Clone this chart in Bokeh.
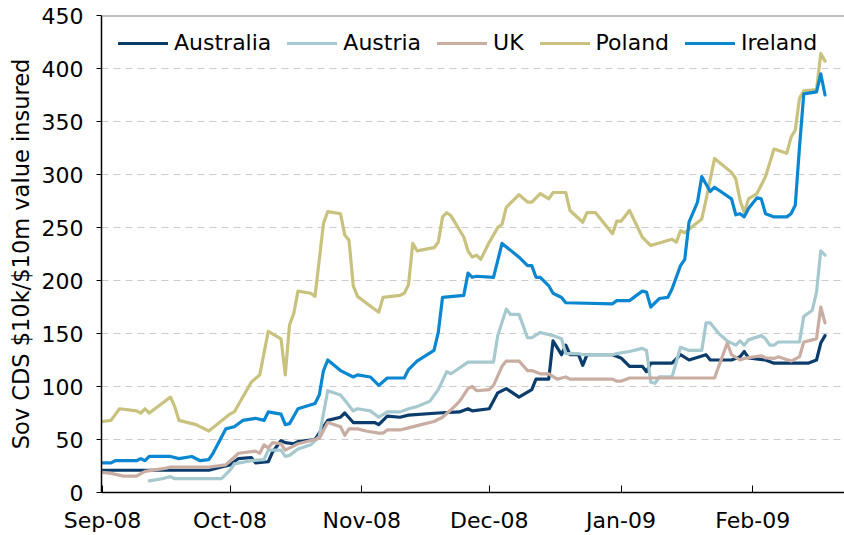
import pandas as pd
from bokeh.plotting import figure
from bokeh.models import (Range1d, FixedTicker, DatetimeTickFormatter, Span,
                          Legend, LegendItem, ColumnDataSource)
from bokeh.embed import file_html
from bokeh.resources import INLINE

series_names = ["Australia", "Austria", "UK", "Poland", "Ireland"]
series_colors = ["#0B3C6C", "#A6C8CF", "#C9ADA2", "#C9C27F", "#0A87D0"]

australia_dates = ["2008-09-01", "2008-09-26", "2008-09-29", "2008-10-01", "2008-10-03", "2008-10-06",
                   "2008-10-07", "2008-10-10", "2008-10-11", "2008-10-13", "2008-10-14", "2008-10-16",
                   "2008-10-17", "2008-10-21", "2008-10-24", "2008-10-27", "2008-10-28", "2008-10-30",
                   "2008-11-04", "2008-11-05", "2008-11-07", "2008-11-10", "2008-11-12", "2008-11-19",
                   "2008-11-24", "2008-11-26", "2008-11-27", "2008-12-01", "2008-12-03", "2008-12-05",
                   "2008-12-08", "2008-12-11", "2008-12-12", "2008-12-15", "2008-12-16", "2008-12-18",
                   "2008-12-19", "2008-12-20", "2008-12-22", "2008-12-23", "2008-12-24", "2008-12-30",
                   "2009-01-01", "2009-01-03", "2009-01-06", "2009-01-07", "2009-01-08", "2009-01-13",
                   "2009-01-15", "2009-01-17", "2009-01-21", "2009-01-22", "2009-01-27", "2009-01-29",
                   "2009-01-30", "2009-01-31", "2009-02-04", "2009-02-06", "2009-02-14", "2009-02-16",
                   "2009-02-17", "2009-02-18"]
australia_vals = [21, 21, 24, 26, 32, 33,
                  28, 29, 38, 49, 47, 46,
                  48, 50, 68, 71, 75, 66,
                  66, 64, 72, 71, 73, 75,
                  76, 79, 77, 79, 94, 98,
                  90, 97, 107, 107, 143, 130,
                  139, 130, 130, 120, 130, 130,
                  127, 119, 119, 114, 122, 122,
                  130, 125, 130, 125, 125, 128,
                  133, 127, 125, 122, 122, 125,
                  141, 148]

austria_dates = ["2008-09-12", "2008-09-15", "2008-09-17", "2008-09-18", "2008-09-29", "2008-10-01",
                 "2008-10-02", "2008-10-06", "2008-10-09", "2008-10-10", "2008-10-13", "2008-10-14",
                 "2008-10-15", "2008-10-17", "2008-10-20", "2008-10-22", "2008-10-24", "2008-10-27",
                 "2008-10-28", "2008-10-30", "2008-10-31", "2008-11-03", "2008-11-05", "2008-11-07",
                 "2008-11-10", "2008-11-12", "2008-11-14", "2008-11-17", "2008-11-19", "2008-11-21",
                 "2008-11-22", "2008-11-26", "2008-12-02", "2008-12-03", "2008-12-05", "2008-12-06",
                 "2008-12-08", "2008-12-10", "2008-12-11", "2008-12-13", "2008-12-16", "2008-12-18",
                 "2008-12-19", "2008-12-22", "2008-12-23", "2008-12-30", "2008-12-31", "2009-01-03",
                 "2009-01-06", "2009-01-07", "2009-01-08", "2009-01-09", "2009-01-10", "2009-01-13",
                 "2009-01-15", "2009-01-17", "2009-01-20", "2009-01-21", "2009-01-22", "2009-01-24",
                 "2009-01-26", "2009-01-28", "2009-01-29", "2009-01-30", "2009-01-31", "2009-02-03",
                 "2009-02-04", "2009-02-05", "2009-02-06", "2009-02-07", "2009-02-12", "2009-02-13",
                 "2009-02-15", "2009-02-16", "2009-02-17", "2009-02-18"]
austria_vals = [11, 13, 15, 13, 13, 21,
                27, 30, 31, 40, 40, 34,
                35, 41, 45, 53, 96, 92,
                87, 77, 79, 77, 71, 76,
                76, 79, 81, 86, 97, 114,
                112, 123, 123, 148, 173, 168,
                168, 146, 146, 151, 148, 145,
                131, 131, 130, 130, 131, 133,
                136, 134, 104, 103, 109, 109,
                137, 134, 134, 160, 160, 150,
                143, 139, 143, 139, 144, 148,
                145, 139, 139, 142, 142, 166,
                172, 189, 228, 224]

uk_dates = ["2008-09-01", "2008-09-03", "2008-09-06", "2008-09-09", "2008-09-11", "2008-09-16",
            "2008-09-17", "2008-09-26", "2008-09-30", "2008-10-03", "2008-10-07", "2008-10-08",
            "2008-10-09", "2008-10-10", "2008-10-11", "2008-10-13", "2008-10-14", "2008-10-17",
            "2008-10-21", "2008-10-22", "2008-10-24", "2008-10-27", "2008-10-28", "2008-10-29",
            "2008-10-31", "2008-11-02", "2008-11-05", "2008-11-06", "2008-11-07", "2008-11-10",
            "2008-11-12", "2008-11-15", "2008-11-18", "2008-11-20", "2008-11-22", "2008-11-24",
            "2008-11-26", "2008-11-27", "2008-11-28", "2008-12-01", "2008-12-02", "2008-12-04",
            "2008-12-05", "2008-12-08", "2008-12-10", "2008-12-11", "2008-12-13", "2008-12-15",
            "2008-12-17", "2008-12-19", "2008-12-20", "2008-12-30", "2008-12-31", "2009-01-01",
            "2009-01-03", "2009-01-23", "2009-01-26", "2009-01-27", "2009-01-29", "2009-01-30",
            "2009-02-03", "2009-02-04", "2009-02-06", "2009-02-07", "2009-02-10", "2009-02-12",
            "2009-02-13", "2009-02-15", "2009-02-16", "2009-02-17", "2009-02-18"]
uk_vals = [19, 18, 15.5, 15.5, 20, 23,
           24, 24, 26, 37, 39, 37,
           45, 42, 47, 46, 40, 46,
           50, 51, 66, 62, 54, 60,
           60, 58, 56, 56, 59, 59,
           61, 64, 67, 71, 78, 86,
           98, 100, 96, 97, 101, 119,
           124, 124, 115, 115, 112, 112,
           107, 109, 107, 107, 105, 105,
           108, 108, 141, 130, 125, 126.5,
           129, 127, 126.5, 128, 124, 128,
           142, 144, 145, 175, 160]

poland_dates = ["2008-09-01", "2008-09-03", "2008-09-05", "2008-09-09", "2008-09-10", "2008-09-11",
                "2008-09-12", "2008-09-15", "2008-09-17", "2008-09-18", "2008-09-19", "2008-09-23",
                "2008-09-26", "2008-10-01", "2008-10-02", "2008-10-06", "2008-10-08", "2008-10-10",
                "2008-10-13", "2008-10-14", "2008-10-15", "2008-10-16", "2008-10-17", "2008-10-20",
                "2008-10-21", "2008-10-23", "2008-10-24", "2008-10-27", "2008-10-28", "2008-10-29",
                "2008-10-30", "2008-10-31", "2008-11-03", "2008-11-05", "2008-11-06", "2008-11-10",
                "2008-11-11", "2008-11-12", "2008-11-13", "2008-11-14", "2008-11-18", "2008-11-19",
                "2008-11-20", "2008-11-21", "2008-11-22", "2008-11-25", "2008-11-26", "2008-11-27",
                "2008-11-28", "2008-11-29", "2008-12-01", "2008-12-03", "2008-12-04", "2008-12-05",
                "2008-12-08", "2008-12-10", "2008-12-11", "2008-12-13", "2008-12-15", "2008-12-16",
                "2008-12-19", "2008-12-20", "2008-12-23", "2008-12-24", "2008-12-26", "2008-12-30",
                "2008-12-31", "2009-01-01", "2009-01-03", "2009-01-06", "2009-01-08", "2009-01-13",
                "2009-01-14", "2009-01-15", "2009-01-16", "2009-01-20", "2009-01-21", "2009-01-23",
                "2009-01-27", "2009-01-28", "2009-01-29", "2009-01-30", "2009-01-31", "2009-02-02",
                "2009-02-04", "2009-02-06", "2009-02-09", "2009-02-10", "2009-02-11", "2009-02-12",
                "2009-02-13", "2009-02-16", "2009-02-17", "2009-02-18"]
poland_vals = [67, 68, 79, 77, 75, 79,
               75, 84, 90, 81, 68, 64,
               58, 74, 76, 104, 111, 152,
               145, 111, 158, 169, 190, 188,
               185, 254, 265, 263, 243, 238,
               195, 185, 176, 170, 184, 186,
               188, 196, 235, 228, 231, 236,
               260, 264, 261, 241, 228, 222,
               224, 220, 236, 250, 253, 269,
               281, 274, 274, 282, 277, 283,
               283, 266, 255, 264, 264, 244,
               256, 256, 266, 241, 233, 239,
               236, 247, 245, 258, 276, 315,
               302, 296, 276, 264, 277, 282,
               298, 324, 320, 335, 342, 372,
               379, 380, 414, 407]

ireland_dates = ["2008-09-01", "2008-09-03", "2008-09-04", "2008-09-09", "2008-09-10", "2008-09-11",
                 "2008-09-12", "2008-09-17", "2008-09-19", "2008-09-22", "2008-09-24", "2008-09-26",
                 "2008-09-27", "2008-09-30", "2008-10-02", "2008-10-04", "2008-10-07", "2008-10-09",
                 "2008-10-10", "2008-10-13", "2008-10-14", "2008-10-15", "2008-10-17", "2008-10-21",
                 "2008-10-22", "2008-10-23", "2008-10-24", "2008-10-27", "2008-10-30", "2008-10-31",
                 "2008-11-03", "2008-11-05", "2008-11-07", "2008-11-11", "2008-11-12", "2008-11-14",
                 "2008-11-18", "2008-11-19", "2008-11-20", "2008-11-25", "2008-11-26", "2008-11-27",
                 "2008-11-28", "2008-12-02", "2008-12-04", "2008-12-08", "2008-12-10", "2008-12-11",
                 "2008-12-12", "2008-12-13", "2008-12-15", "2008-12-16", "2008-12-18", "2008-12-19",
                 "2008-12-30", "2008-12-31", "2009-01-03", "2009-01-06", "2009-01-07", "2009-01-08",
                 "2009-01-10", "2009-01-12", "2009-01-13", "2009-01-15", "2009-01-16", "2009-01-17",
                 "2009-01-19", "2009-01-20", "2009-01-22", "2009-01-23", "2009-01-27", "2009-01-28",
                 "2009-01-29", "2009-01-30", "2009-01-31", "2009-02-02", "2009-02-03", "2009-02-04",
                 "2009-02-06", "2009-02-09", "2009-02-10", "2009-02-11", "2009-02-12", "2009-02-13",
                 "2009-02-16", "2009-02-17", "2009-02-18"]
ireland_vals = [28, 28, 30, 30, 32, 30,
                34, 34, 32, 34, 30, 31,
                37, 60, 62, 68, 70, 68,
                76, 74, 64, 65, 79, 84,
                92, 115, 125, 115, 109, 111,
                109, 101, 108, 108, 116, 124,
                134, 151, 184, 186, 207, 203,
                204, 203, 235, 222, 214, 214,
                203, 203, 195, 188, 184, 179,
                178, 181, 181, 190, 189, 175,
                183, 184, 192, 214, 220, 255,
                274, 298, 284, 288, 277, 262,
                263, 260, 268, 278, 277, 263,
                260, 260, 263, 271, 326, 376,
                378, 395, 375]

month_ticks = ["2008-09-01", "2008-10-01", "2008-11-01", "2008-12-01", "2009-01-01", "2009-02-01"]
y_ticks = [0, 50, 100, 150, 200, 250, 300, 350, 400, 450]

all_dates = [australia_dates, austria_dates, uk_dates, poland_dates, ireland_dates]
all_vals = [australia_vals, austria_vals, uk_vals, poland_vals, ireland_vals]

FONT = "DejaVu Sans"

p = figure(width=844, height=535, x_axis_type="datetime",
           output_backend="svg", toolbar_location=None,
           x_range=Range1d(start=pd.Timestamp("2008-08-31 18:20"), end=pd.Timestamp("2009-02-22 14:00")),
           y_range=Range1d(0, 450),
           min_border_left=101, min_border_right=0, min_border_top=15, min_border_bottom=43)
p.outline_line_color = None
p.background_fill_color = "white"
p.border_fill_color = "white"

renderers = []
for d, v, c in zip(all_dates, all_vals, series_colors):
    src = ColumnDataSource(dict(x=pd.to_datetime(d), y=v))
    r = p.line("x", "y", source=src, line_color=c, line_width=3.2, line_join="round", line_cap="round")
    renderers.append(r)

# axes
p.xaxis.ticker = FixedTicker(ticks=[pd.Timestamp(t).value / 1e6 for t in month_ticks])
p.xaxis.formatter = DatetimeTickFormatter(days="%b-%y", months="%b-%y", years="%b-%y",
                                          hours="%b-%y", minutes="%b-%y", seconds="%b-%y",
                                          milliseconds="%b-%y", microseconds="%b-%y")
p.yaxis.ticker = FixedTicker(ticks=y_ticks)
for ax in (p.xaxis[0], p.yaxis[0]):
    ax.axis_line_color = "black"
    ax.axis_line_width = 1.5
    ax.major_tick_line_color = "black"
    ax.major_tick_line_width = 1
    ax.minor_tick_line_color = None
    ax.major_label_text_font = FONT
    ax.major_label_text_font_size = "22px"
    ax.major_label_text_color = "black"
p.xaxis.major_tick_in = 7
p.xaxis.major_tick_out = 0
p.xaxis.major_label_standoff = 15
p.yaxis.major_tick_in = 0
p.yaxis.major_tick_out = 5
p.yaxis.major_label_standoff = 13
p.yaxis.axis_label = "Sov CDS $10k/$10m value insured"
p.yaxis.axis_label_text_font = FONT
p.yaxis.axis_label_text_font_size = "22.5px"
p.yaxis.axis_label_text_font_style = "normal"
p.yaxis.axis_label_text_color = "black"
p.yaxis.axis_label_standoff = 5

p.xgrid.grid_line_color = None
p.ygrid.ticker = FixedTicker(ticks=y_ticks[1:-1])
p.ygrid.grid_line_color = "#CCCCCC"
p.ygrid.grid_line_dash = "7 5"
p.ygrid.grid_line_width = 1

p.add_layout(Span(location=450, dimension="width", line_color="#808080", line_width=2))

legend = Legend(items=[LegendItem(label=n, renderers=[r]) for n, r in zip(series_names, renderers)],
                orientation="horizontal", location=(17, 437),
                label_text_font=FONT, label_text_font_size="22px", label_text_color="black",
                glyph_width=50, glyph_height=20, label_standoff=6, spacing=16,
                padding=0, margin=0, border_line_color=None, background_fill_alpha=0)
p.add_layout(legend)

open("out.html", "w").write(file_html(p, INLINE))
